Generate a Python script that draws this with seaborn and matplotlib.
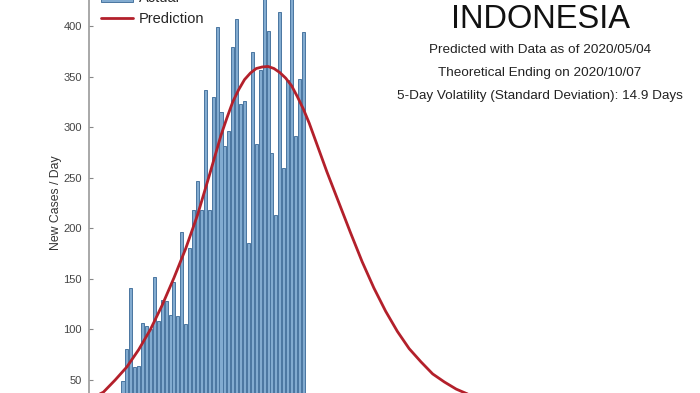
import matplotlib
matplotlib.use("Agg")
import matplotlib.pyplot as plt
from matplotlib.patches import Patch
from matplotlib.lines import Line2D
import seaborn as sns
import pandas as pd

# ---- data ----
days = list(range(47))
actual = [49, 81, 141, 63, 64, 106, 103, 100, 152, 108,
          129, 128, 114, 147, 113, 196, 105, 181, 218, 247,
          218, 337, 218, 330, 399, 315, 281, 296, 379, 407,
          323, 326, 185, 374, 283, 357, 436, 395, 274, 213,
          414, 260, 347, 433, 291, 348, 394]

pred_day = [-8, -5, -2, 1, 4, 7, 10, 13, 16, 19, 22, 25, 26.5, 28, 29.5,
            31, 32.5, 34, 35.5, 37, 38.5, 40, 41.5, 43, 44.5, 46, 47.5,
            49, 52, 55, 58, 61, 64, 67, 70, 73, 76, 79, 82,
            85, 88, 91, 94, 100]
pred_val = [32, 38, 50, 63, 80, 100, 124, 151, 180, 213, 252, 292, 309,
            325, 337, 347, 353.5, 358, 359.5, 360, 358, 354, 348.5, 341,
            330, 318, 304, 288, 256, 226, 196, 167, 141,
            118, 98, 81, 68, 56, 48, 41, 36, 32, 29, 24]

yticks = [50, 100, 150, 200, 250, 300, 350, 400]
title = "INDONESIA"
sub_lines = ["Predicted with Data as of 2020/05/04",
             "Theoretical Ending on 2020/10/07",
             "5-Day Volatility (Standard Deviation): 14.9 Days"]

sns.set_theme(style="white")
plt.rcParams["font.family"] = ["Liberation Sans", "DejaVu Sans"]

W, H = 700, 393
fig = plt.figure(figsize=(7.0, 3.93), dpi=100)
fig.patch.set_facecolor("white")

# axes extend past the figure (the reference is a crop)
left_px, right_px = 89, 735
y0_px, y1_px = 430.57, -24.56   # pixel rows for v=0 and v=450
ax = fig.add_axes([left_px / W, (H - y0_px) / H,
                   (right_px - left_px) / W, (y0_px - y1_px) / H])

df_bar = pd.DataFrame({"day": days, "cases": actual})
df_pred = pd.DataFrame({"day": pred_day, "cases": pred_val})

bar_face = "#82abd0"
bar_edge = "#4a76a0"
line_col = "#b3202b"

sns.barplot(data=df_bar, x="day", y="cases", native_scale=True, width=0.78,
            color=bar_face, saturation=1, edgecolor=bar_edge, linewidth=0.7,
            ax=ax)
sns.lineplot(data=df_pred, x="day", y="cases", color=line_col, linewidth=2.0,
             ax=ax, sort=False)

px_per_day = 3.92
x0_day = (left_px - 123) / px_per_day
x1_day = (right_px - 123) / px_per_day
ax.set_xlim(x0_day, x1_day)
ax.set_ylim(0, 450)

ax.set_yticks(yticks)
ax.set_yticklabels([str(v) for v in yticks], fontsize=8, color="#444444")
ax.tick_params(axis="y", direction="in", length=3, width=0.8,
               color="#888888", pad=5, left=True)
ax.set_xticks([])
ax.set_xlabel("")
ax.set_ylabel("New Cases / Day", fontsize=8.8, color="#333333", labelpad=1)

for s in ["top", "right", "bottom"]:
    ax.spines[s].set_visible(False)
ax.spines["left"].set_color("#9a9a9a")
ax.spines["left"].set_linewidth(1.2)

handles = [Patch(facecolor=bar_face, edgecolor=bar_edge, linewidth=0.7),
           Line2D([], [], color=line_col, linewidth=2.0)]
fig.legend(handles, ["Actual", "Prediction"], loc="upper left",
           bbox_to_anchor=(101 / W, (H + 9) / H), frameon=False,
           fontsize=10.5, handlelength=2.2, handletextpad=0.4,
           labelspacing=0.47, borderpad=0, borderaxespad=0)

cx = 540 / W
fig.text(cx, 1 - 19 / H, title, fontsize=23.5, ha="center", va="center",
         color="#111111")
for txt, yy in zip(sub_lines, [50, 73, 95.5]):
    fig.text(cx, 1 - yy / H, txt, fontsize=9.7, ha="center", va="center",
             color="#222222")

fig.savefig("out.png", dpi=100, facecolor="white")
